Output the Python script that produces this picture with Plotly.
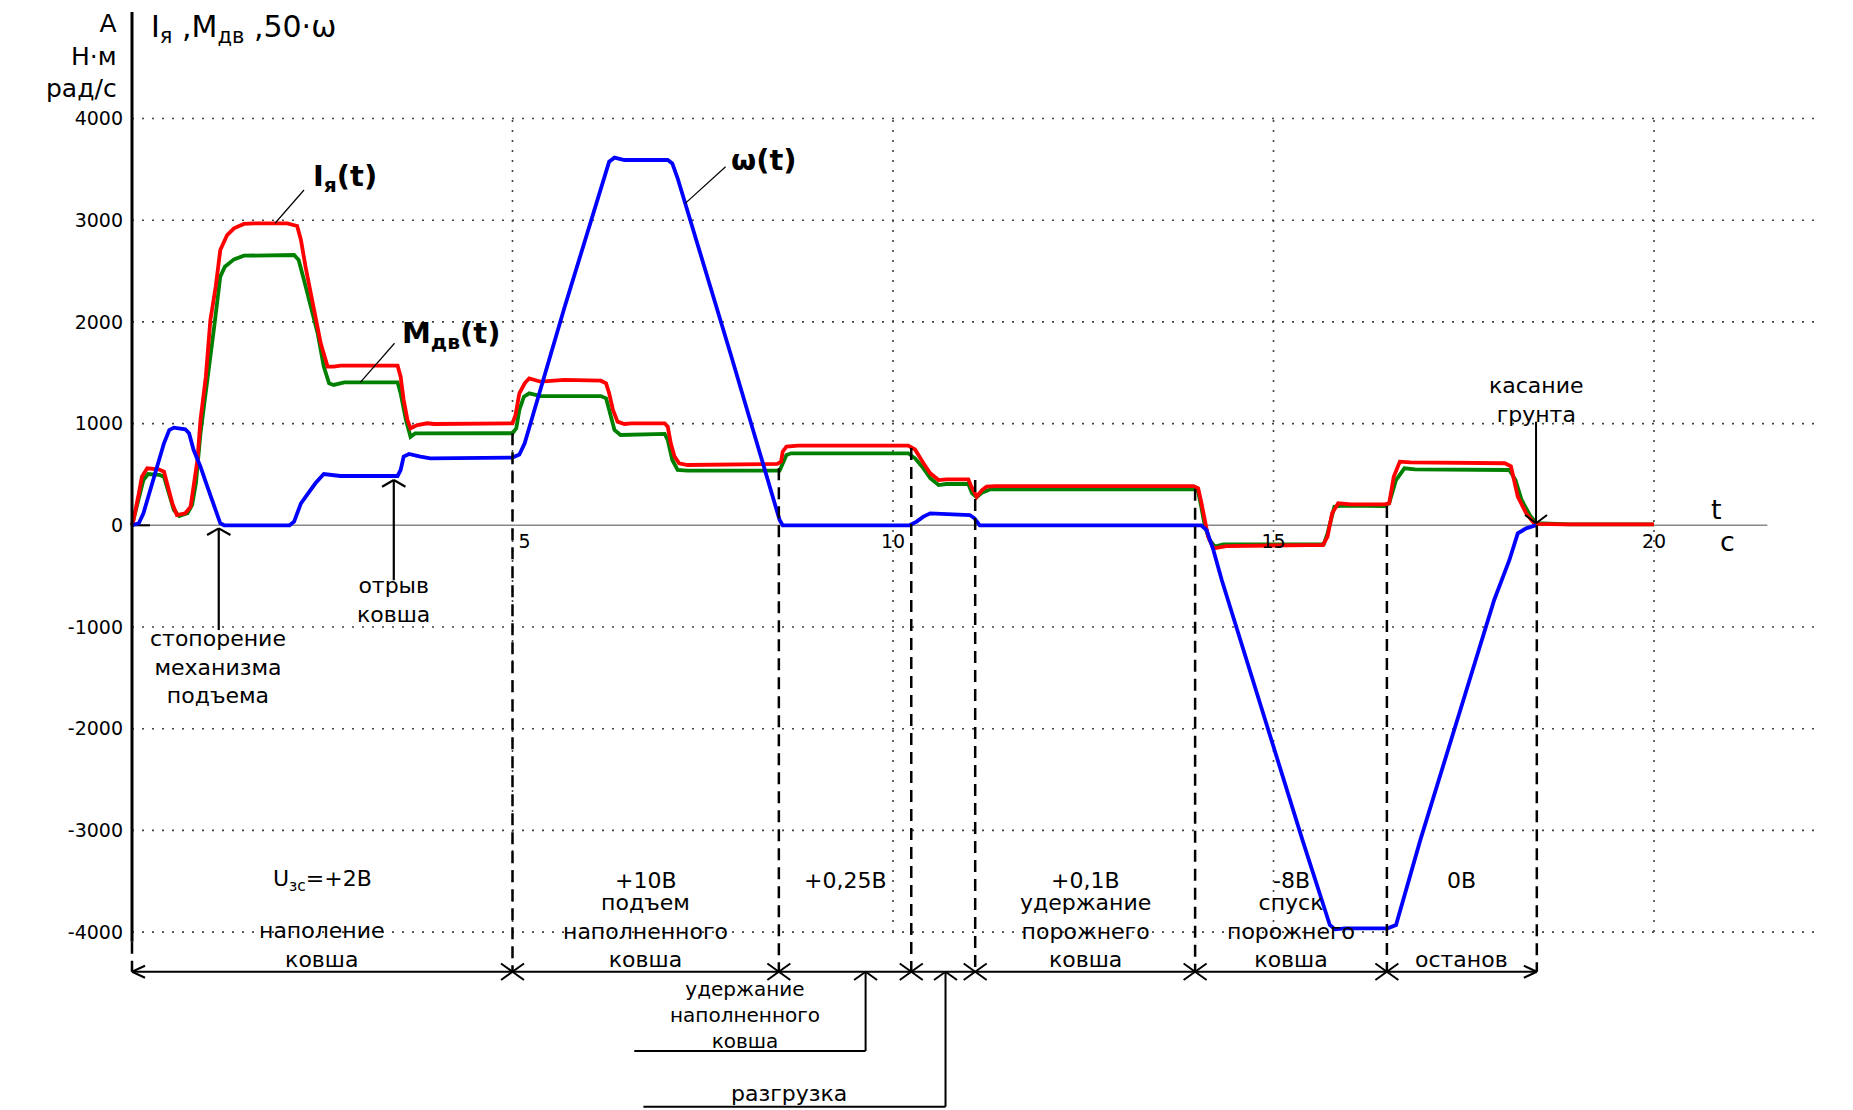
import plotly.graph_objects as go

# ---------------- data ----------------
t_I = [0, 0.02, 0.09, 0.13, 0.20, 0.35, 0.42, 0.46, 0.53, 0.59, 0.70, 0.77, 0.81, 0.86, 0.90, 0.97,
       1.03, 1.10, 1.16, 1.25, 1.34, 1.47, 1.60, 2.04, 2.17, 2.22, 2.28, 2.35, 2.41, 2.48, 2.57, 2.65,
       2.74, 3.49, 3.53, 3.57, 3.62, 3.66, 3.75, 3.88, 3.97, 5.00, 5.04, 5.09, 5.16, 5.22, 5.37, 5.68,
       6.16, 6.23, 6.27, 6.32, 6.38, 6.47, 6.56, 7.00, 7.04, 7.08, 7.13, 7.19, 7.30, 8.48, 8.53, 8.55,
       8.60, 8.75, 10.20, 10.29, 10.40, 10.49, 10.60, 10.70, 10.99, 11.03, 11.10, 11.17, 11.23, 11.34,
       13.95, 14.01, 14.05, 14.10, 14.14, 14.21, 14.30, 14.38, 15.45, 15.65, 15.71, 15.77, 15.85, 16.02,
       16.46, 16.52, 16.58, 16.66, 16.80, 18.04, 18.12, 18.21, 18.32, 18.43, 18.82, 20.0]
I_ya = [0, 52, 315, 478, 560, 550, 527, 413, 216, 101, 118, 183, 413, 642, 1035, 1461,
        2019, 2346, 2707, 2854, 2920, 2963, 2969, 2969, 2943, 2805, 2543, 2281, 2019, 1790, 1560, 1560,
        1570, 1570, 1461, 1232, 1035, 954, 986, 1003, 996, 1003, 1085, 1298, 1396, 1445, 1412, 1429,
        1422, 1396, 1298, 1134, 1019, 996, 1003, 1003, 970, 806, 675, 610, 593, 603, 626, 724,
        773, 783, 783, 745, 610, 511, 445, 452, 452, 380, 281, 347, 380, 386,
        386, 363, 230, 20, -110, -226, -210, -204, -194, -194, -112, 118, 216, 205,
        205, 216, 478, 626, 619, 610, 580, 282, 118, 13, 10, 10]

t_M = [0, 0.09, 0.15, 0.21, 0.36, 0.42, 0.49, 0.55, 0.62, 0.73, 0.79, 0.84, 0.90, 0.99, 1.08, 1.16,
       1.22, 1.34, 1.47, 2.13, 2.19, 2.26, 2.35, 2.44, 2.52, 2.59, 2.65, 2.79, 3.49, 3.53, 3.60, 3.66,
       3.72, 5.00, 5.05, 5.09, 5.15, 5.22, 5.37, 6.16, 6.23, 6.27, 6.34, 6.42, 7.00, 7.04, 7.10, 7.17,
       7.30, 8.51, 8.55, 8.60, 8.66, 10.20, 10.29, 10.40, 10.49, 10.60, 10.70, 10.99, 11.04, 11.10,
       11.17, 11.28, 13.98, 14.01, 14.05, 14.10, 14.16, 14.23, 14.34, 15.66, 15.71, 15.80, 15.91,
       16.46, 16.52, 16.61, 16.72, 16.86, 18.10, 18.18, 18.26, 18.38, 18.46, 18.90, 20.0]
M_dv = [0, 281, 445, 504, 495, 478, 315, 150, 91, 118, 200, 413, 904, 1396, 1953, 2445,
        2543, 2615, 2651, 2658, 2609, 2412, 2150, 1888, 1560, 1396, 1380, 1406, 1406, 1298, 1035, 871,
        904, 905, 954, 1134, 1265, 1298, 1271, 1271, 1248, 1134, 937, 888, 898, 839, 642, 544,
        538, 538, 610, 691, 708, 708, 659, 560, 462, 396, 406, 406, 315, 275,
        321, 354, 354, 331, 183, -14, -145, -210, -187, -187, -79, 183, 194,
        189, 216, 445, 560, 550, 544, 445, 249, 85, 20, 10, 10]

t_w = [0, 0.09, 0.15, 0.24, 0.33, 0.42, 0.49, 0.55, 0.70, 0.75, 0.81, 0.90, 0.99, 1.08, 1.16, 1.21,
       2.07, 2.13, 2.22, 2.30, 2.41, 2.52, 2.65, 2.74, 3.49, 3.53, 3.57, 3.64, 3.79, 3.92, 5.00, 5.09,
       5.16, 5.68, 6.27, 6.34, 6.47, 7.04, 7.10, 7.17, 7.87, 8.51, 8.55, 10.22, 10.31, 10.40, 10.49,
       10.70, 11.01, 11.07, 11.14, 14.05, 14.12, 14.21, 14.32, 15.38, 15.74, 15.81, 15.94, 16.50,
       16.61, 16.93, 17.90, 18.10, 18.21, 18.32, 18.45]
w_50 = [0, 20, 118, 347, 576, 806, 937, 960, 944, 905, 740, 576, 380, 183, 20, 0,
        0, 36, 216, 298, 413, 504, 495, 485, 485, 544, 675, 701, 675, 659, 666, 696,
        806, 2134, 3575, 3615, 3592, 3592, 3559, 3412, 1675, 52, 0, 0, 36, 85, 118,
        111, 101, 69, 0, 0, -46, -243, -538, -3093, -3930, -3973, -3963, -3963,
        -3930, -3093, -734, -341, -79, -30, 0]

y_tick_vals = [-4000, -3000, -2000, -1000, 0, 1000, 2000, 3000, 4000]
y_tick_text = ["-4000", "-3000", "-2000", "-1000", "0", "1000", "2000", "3000", "4000"]
x_tick_vals = [5, 10, 15, 20]
x_tick_text = ["\u00a0\u00a0\u00a0\u00a05", "10", "15", "20"]

phase_bounds = [0, 5.0, 8.5, 10.24, 11.08, 13.97, 16.49, 18.46]
phase_voltage = ["U<sub>зс</sub>=+2В", "+10В", "+0,25В", "", "+0,1В", "-8В", "0В"]
phase_names = [["наполение", "ковша"],
               ["подъем", "наполненного", "ковша"],
               [], [],
               ["удержание", "порожнего", "ковша"],
               ["спуск", "порожнего", "ковша"],
               ["останов"]]

# ---------------- geometry ----------------
OFF = 8                         # page body margin
W, H = 1853 - OFF, 1110 - OFF
X0P, Y0P = 132.0, 525.3         # page pixel position of t=0, value=0
X0, Y0 = X0P - OFF, Y0P - OFF   # same in figure pixels
PX_T, PX_V = 76.1, 0.1017       # pixels per second, pixels per unit


def dt(px):
    return px / PX_T


def dv(px):
    return px / PX_V


x_range = [-X0 / PX_T, (W - X0) / PX_T]
y_range = [-(H - Y0) / PX_V, Y0 / PX_V]

FONT = "DejaVu Sans"
TXT = 22
shapes = []
annotations = []


def seg(x0, y0, x1, y1, color="black", width=2.0, dash="solid", layer="above"):
    shapes.append(dict(type="line", xref="x", yref="y", x0=x0, y0=y0, x1=x1, y1=y1,
                       line=dict(color=color, width=width, dash=dash), layer=layer))


def txt(x, y, s, size=TXT, bold=False, xanchor="center", yanchor="middle", align="center"):
    annotations.append(dict(x=x, y=y, xref="x", yref="y", text=s, showarrow=False,
                            xanchor=xanchor, yanchor=yanchor, align=align, borderpad=0,
                            font=dict(family=FONT, size=size, color="black",
                                      weight="bold" if bold else "normal")))


# grid (dotted)
GRID_END = 22.18
DOT = "2px,8px"
for v in [-4000, -3000, -2000, -1000, 1000, 2000, 3000, 4000]:
    seg(0, v, GRID_END, v, color="#444", width=1.6, dash=DOT, layer="below")
for t in [5, 10, 15, 20]:
    seg(t, -4000, t, 4000, color="#444", width=1.6, dash=DOT, layer="below")

# zero line
seg(0, 0, 21.49, 0, color="#888", width=1.6, layer="below")
seg(0, 0, dt(18), 0, color="black", width=2, layer="below")

# vertical axis
seg(0, dv(Y0P - 12), 0, -4094, color="black", width=3)
V_ARR = -4390
seg(0, -4094, 0, V_ARR, color="black", width=2.5, dash="12px,7px")

# phase boundaries (dashed)
tops = [None, 905, 560, 760, 445, 360, 190, 0]
for tb, top in zip(phase_bounds[1:], tops[1:]):
    seg(tb, top, tb, V_ARR, color="black", width=2.5, dash="12px,7px")

# arrow line with heads and crosses
seg(0, V_ARR, phase_bounds[-1], V_ARR, width=2)
ax_, ay_ = dt(13), dv(6)
seg(0, V_ARR, ax_, V_ARR + ay_, width=2)
seg(0, V_ARR, ax_, V_ARR - ay_, width=2)
tend = phase_bounds[-1]
seg(tend, V_ARR, tend - ax_, V_ARR + ay_, width=2)
seg(tend, V_ARR, tend - ax_, V_ARR - ay_, width=2)
cx, cy = dt(11.5), dv(8.3)
for tb in phase_bounds[1:-1]:
    seg(tb - cx, V_ARR - cy, tb + cx, V_ARR + cy, width=2)
    seg(tb - cx, V_ARR + cy, tb + cx, V_ARR - cy, width=2)

# up-arrows under the arrow line
for tu, vend, tleft in [(9.64, -5169, 6.6), (10.69, -5717, 6.72)]:
    seg(tu - cx, V_ARR - cy, tu, V_ARR, width=2)
    seg(tu + cx, V_ARR - cy, tu, V_ARR, width=2)
    seg(tu, V_ARR, tu, vend, width=2)
    seg(tu, vend, tleft, vend, width=2)

# event arrows
hx, hy = dt(11.7), dv(6.7)
for te, tip, bottom in [(1.14, -30, -1030), (3.44, 445, -540)]:
    seg(te, tip, te, bottom, width=2.2)
    seg(te - hx, tip - hy, te, tip, width=2.2)
    seg(te + hx, tip - hy, te, tip, width=2.2)
# "касание грунта" arrow (pointing down)
tk = 18.45
seg(tk, 1019, tk, 20, width=2)
seg(tk - dt(11), 20 + dv(8.3), tk, 20, width=2)
seg(tk + dt(11), 20 + dv(8.3), tk, 20, width=2)

# leader lines for curve labels
seg(2.26, 3297, 1.88, 2970, width=1.2)
seg(3.45, 1790, 3.00, 1406, width=1.2)
seg(7.80, 3526, 7.27, 3166, width=1.2)

# ---------------- texts ----------------
V_TOP = y_range[1]
txt(dt(118 - X0P), V_TOP, "А<br>Н·м<br>рад/с", size=25, xanchor="right", yanchor="top", align="right")
txt(dt(150 - X0P), V_TOP, "I<sub>я</sub> ,M<sub>дв</sub> ,50·ω", size=30, xanchor="left", yanchor="top")

txt(2.80, 3415, "I<sub>я</sub>(t)", size=29, bold=True)
txt(4.19, 1871, "M<sub>дв</sub>(t)", size=29, bold=True)
txt(8.31, 3592, "ω(t)", size=29, bold=True)

txt(1.13, -1398, "стопорение<br>механизма<br>подъема")
txt(3.435, -739, "отрыв<br>ковша")
txt(18.45, 1232, "касание<br>грунта")

V_BOTTOM_LINE = -4283
for i in range(len(phase_voltage)):
    tc = 0.5 * (phase_bounds[i] + phase_bounds[i + 1])
    if phase_voltage[i]:
        txt(tc, -3495, phase_voltage[i])
    names = phase_names[i]
    if names:
        txt(tc, V_BOTTOM_LINE - dv(12), "<br>".join(names), yanchor="bottom")

txt(8.05, -4815, "удержание<br>наполненного<br>ковша", size=20)
txt(8.63, -5590, "разгрузка")

txt(20.82, 160, "t", size=27)
txt(20.96, -161, "с", size=27)

# ---------------- traces ----------------
fig = go.Figure()
fig.add_trace(go.Scatter(x=t_M, y=M_dv, mode="lines", name="Mдв",
                         line=dict(color="#008000", width=3.8)))
fig.add_trace(go.Scatter(x=t_I, y=I_ya, mode="lines", name="Iя",
                         line=dict(color="#ff0000", width=3.8)))
fig.add_trace(go.Scatter(x=t_w, y=w_50, mode="lines", name="50·ω",
                         line=dict(color="#0000ff", width=3.8)))

fig.update_layout(
    width=W, height=H, autosize=False,
    margin=dict(l=0, r=0, t=0, b=0, pad=0, autoexpand=False),
    paper_bgcolor="white", plot_bgcolor="white",
    showlegend=False,
    shapes=shapes, annotations=annotations,
    xaxis=dict(range=x_range, showgrid=False, zeroline=False, showline=False,
               automargin=False,
               tickvals=x_tick_vals, ticktext=x_tick_text, ticks="",
               anchor="free", position=(H - Y0) / H, side="bottom",
               ticklabelstandoff=3,
               tickfont=dict(family=FONT, size=19, color="black")),
    yaxis=dict(range=y_range, showgrid=False, zeroline=False, showline=False,
               automargin=False,
               tickvals=y_tick_vals, ticktext=y_tick_text, ticks="",
               anchor="free", position=X0 / W, side="left",
               ticklabelstandoff=9,
               tickfont=dict(family=FONT, size=19, color="black")),
)

fig.write_html("out.html")
